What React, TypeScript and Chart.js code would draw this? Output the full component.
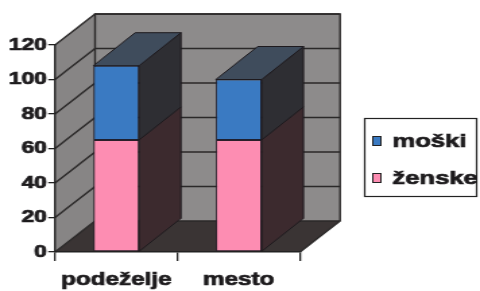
import React, { useEffect, useRef } from 'react';
import { Chart, registerables } from 'chart.js';

Chart.register(...registerables);

const categories = ['podeželje', 'mesto'];
const zenske = [65, 65];
const moski = [43, 35];
const yMin = 0;
const yMax = 120;
const yStep = 20;
const legendLabels = ['moški', 'ženske'];

const W = 356;
const H = 291;
const FONT = "'Liberation Sans', Arial, sans-serif";
const TEXT = '#1c1a1c';
const PINK = '#fd8db2';
const BLUE = '#3a7ac2';
const WALL_DX = 29.7;
const WALL_DY = -31;
const BAR_DX = 31;
const BAR_DY = -33;

const threeD = {
  id: 'threeD',
  beforeDraw(chart: any) {
    const { ctx, chartArea } = chart;
    const { left, right, bottom } = chartArea;
    const y = chart.scales.y;
    const top = y.getPixelForValue(yMax);
    ctx.save();
    ctx.fillStyle = '#8d8b8b';
    ctx.fillRect(left + WALL_DX, top + WALL_DY, right - left, bottom - top);
    ctx.fillStyle = '#878585';
    ctx.beginPath();
    ctx.moveTo(left, bottom);
    ctx.lineTo(left, top);
    ctx.lineTo(left + WALL_DX, top + WALL_DY);
    ctx.lineTo(left + WALL_DX, bottom + WALL_DY);
    ctx.closePath();
    ctx.fill();
    ctx.fillStyle = '#3a3434';
    ctx.beginPath();
    ctx.moveTo(left, bottom);
    ctx.lineTo(right, bottom);
    ctx.lineTo(right + WALL_DX, bottom + WALL_DY);
    ctx.lineTo(left + WALL_DX, bottom + WALL_DY);
    ctx.closePath();
    ctx.fill();
    ctx.strokeStyle = '#2b2929';
    ctx.lineWidth = 1.4;
    for (let v = yMin; v <= yMax; v += yStep) {
      const py = y.getPixelForValue(v);
      ctx.beginPath();
      ctx.moveTo(left, py);
      ctx.lineTo(left + WALL_DX, py + WALL_DY);
      ctx.lineTo(right + WALL_DX, py + WALL_DY);
      ctx.stroke();
    }
    ctx.beginPath();
    ctx.moveTo(left + WALL_DX, bottom + WALL_DY);
    ctx.lineTo(left + WALL_DX, top + WALL_DY);
    ctx.lineTo(right + WALL_DX, top + WALL_DY);
    ctx.lineTo(right + WALL_DX, bottom + WALL_DY);
    ctx.lineTo(right, bottom);
    ctx.stroke();
    ctx.restore();
  },
  afterDatasetsDraw(chart: any) {
    const { ctx } = chart;
    const metas = chart.data.datasets.map((_: any, i: number) => chart.getDatasetMeta(i));
    const sideColors = ['#3c2a2e', '#2e2e33'];
    ctx.save();
    ctx.strokeStyle = '#1e1a1e';
    ctx.lineWidth = 1;
    for (let j = 0; j < categories.length; j++) {
      metas.forEach((meta: any, di: number) => {
        const el = meta.data[j];
        const { x, y, base, width } = el.getProps(['x', 'y', 'base', 'width'], true);
        const l = x - width / 2;
        const r = x + width / 2;
        ctx.fillStyle = sideColors[di];
        ctx.beginPath();
        ctx.moveTo(r, y);
        ctx.lineTo(r + BAR_DX, y + BAR_DY);
        ctx.lineTo(r + BAR_DX, base + BAR_DY);
        ctx.lineTo(r, base);
        ctx.closePath();
        ctx.fill();
        ctx.stroke();
        if (di === metas.length - 1) {
          ctx.fillStyle = '#3f4c5c';
          ctx.beginPath();
          ctx.moveTo(l, y);
          ctx.lineTo(l + BAR_DX, y + BAR_DY);
          ctx.lineTo(r + BAR_DX, y + BAR_DY);
          ctx.lineTo(r, y);
          ctx.closePath();
          ctx.fill();
          ctx.stroke();
        }
      });
    }
    ctx.restore();
  },
  afterDraw(chart: any) {
    const { ctx } = chart;
    ctx.save();
    ctx.strokeStyle = '#222';
    ctx.lineWidth = 1.2;
    ctx.strokeRect(270.5, 118.5, 83, 78);
    const colors = [BLUE, PINK];
    const ys = [141, 178];
    ctx.font = `bold 19px ${FONT}`;
    ctx.textBaseline = 'middle';
    legendLabels.forEach((lab, i) => {
      ctx.fillStyle = colors[i];
      ctx.fillRect(276.5, ys[i] - 4.5, 6, 9);
      ctx.strokeStyle = '#222';
      ctx.lineWidth = 1;
      ctx.strokeRect(276.5, ys[i] - 4.5, 6, 9);
      ctx.fillStyle = TEXT;
      ctx.strokeStyle = TEXT;
      ctx.lineWidth = 0.7;
      ctx.fillText(lab, 291, ys[i] + 1);
      ctx.strokeText(lab, 291, ys[i] + 1);
    });
    ctx.restore();
  },
};

export default function App() {
  const ref = useRef<HTMLCanvasElement>(null);
  useEffect(() => {
    if (!ref.current) return;
    const chart = new Chart(ref.current, {
      type: 'bar',
      data: {
        labels: categories,
        datasets: [
          { label: legendLabels[1], data: zenske, backgroundColor: PINK, borderColor: '#2a1f2a', borderWidth: 1, borderSkipped: false },
          { label: legendLabels[0], data: moski, backgroundColor: BLUE, borderColor: '#1e2030', borderWidth: 1, borderSkipped: false },
        ],
      },
      options: {
        responsive: false,
        animation: false,
        devicePixelRatio: 1,
        layout: { padding: { top: 45, right: 133.5, left: 0, bottom: 0 } },
        plugins: { legend: { display: false }, tooltip: { enabled: false } },
        datasets: { bar: { categoryPercentage: 1, barPercentage: 0.374 } },
        scales: {
          x: {
            stacked: true,
            grid: { display: true, drawOnChartArea: false, drawTicks: true, tickLength: 9, color: '#222', lineWidth: 1.3, offset: true },
            border: { display: true, color: '#222', width: 1.4 },
            ticks: { color: TEXT, textStrokeColor: TEXT, textStrokeWidth: 0.7, font: { family: FONT, size: 18, weight: 'bold' }, padding: 8, maxRotation: 0 },
            afterFit: (s: any) => { s.height = 39; },
          },
          y: {
            stacked: true,
            min: yMin,
            max: yMax,
            grid: { display: true, drawOnChartArea: false, drawTicks: true, tickLength: 5, color: '#222', lineWidth: 1.3 },
            border: { display: true, color: '#222', width: 1.4 },
            ticks: { stepSize: yStep, color: TEXT, textStrokeColor: TEXT, textStrokeWidth: 0.7, font: { family: FONT, size: 17, weight: 'bold' }, padding: 1 },
            afterFit: (s: any) => { s.width = 40.8; },
          },
        },
      },
      plugins: [threeD],
    } as any);
    return () => chart.destroy();
  }, []);
  return (
    <div style={{ position: 'fixed', left: 0, top: 0, width: 480, height: H, background: '#fff' }}>
      <canvas ref={ref} width={W} height={H} style={{ width: '480px', height: `${H}px`, display: 'block' }} />
    </div>
  );
}
